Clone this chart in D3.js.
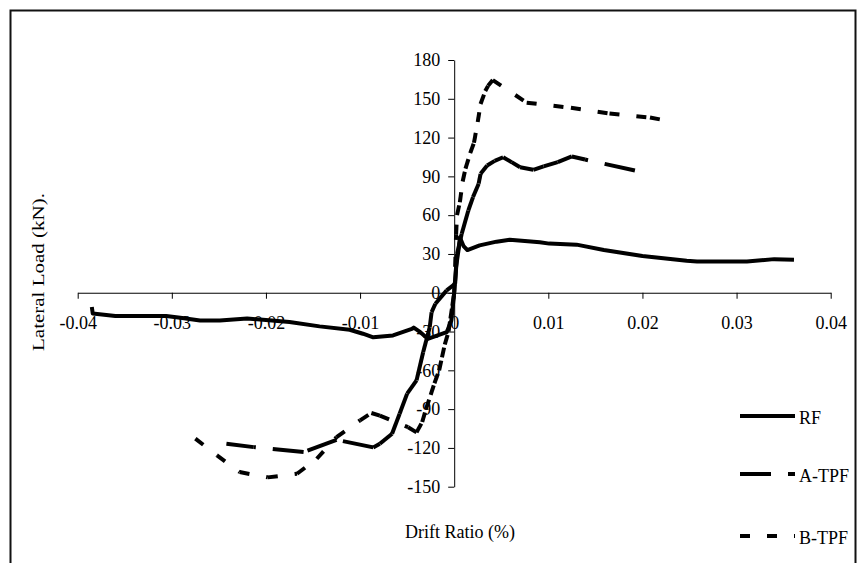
<!DOCTYPE html>
<html>
<head>
<meta charset="utf-8">
<script src="https://cdn.jsdelivr.net/npm/d3@7"></script>
<style>
  body { margin: 0; background: #fff; }
  svg { display: block; }
  text { font-family: "Times New Roman", "Liberation Serif", serif; }
</style>
</head>
<body>
<div id="chart"></div>
<script>

// Drift ratio / lateral load (kN) pairs, in drawing order
var rfDrift = [-0.0385, -0.0384, -0.036, -0.0306, -0.0291, -0.027, -0.0249, -0.022, -0.020, -0.0175,
               -0.0143, -0.0111, -0.0097, -0.0086, -0.0065, -0.0045, -0.0043, -0.0036, -0.0028, -0.0008,
               -0.0003, 0, 0.0002, 0.0005, 0.0006, 0.0010, 0.0014, 0.0027, 0.0045, 0.0059,
               0.0091, 0.0101, 0.013, 0.0159, 0.020, 0.0247, 0.0258, 0.0311, 0.034, 0.0361];
var rfLoad  = [-11, -16, -18, -18, -19.3, -21.4, -21.4, -20, -21, -22.7,
               -26, -28.6, -31.7, -34.5, -33, -28, -27, -30.5, -35.6, -30.5,
               -21.4, 0, 20, 35, 43, 36, 33, 36.6, 39.5, 41,
               39, 38, 37.2, 33, 28.4, 24.7, 24.2, 24.2, 26, 25.6];

// A-TPF is plotted from its positive end back to the negative end
var aDrift = [0.0192, 0.0139, 0.0125, 0.011, 0.0095, 0.0084, 0.0070, 0.0061, 0.0052, 0.0043,
              0.0035, 0.0028, 0.0026, 0.0020, 0.0015, 0.0008, 0.0003, 0.0001, -0.0008, -0.0020,
              -0.0024, -0.0026, -0.0033, -0.0040, -0.0050, -0.0058, -0.0066, -0.0079, -0.0086, -0.0125,
              -0.0160, -0.0213, -0.0242];
var aLoad  = [94.6, 103, 105.4, 101, 97.7, 95.1, 97, 101, 104.8, 102,
              98.4, 92, 84.3, 74, 63.6, 45.6, 30, 7, 1.8, -8.5,
              -15, -26.6, -46, -67.8, -78, -93.6, -109, -116.8, -119.6, -113.7,
              -123.2, -119.4, -116.8];

var bDrift = [-0.0275, -0.0252, -0.0228, -0.0198, -0.0167, -0.0146, -0.0125, -0.0100, -0.0088, -0.0079,
              -0.0049, -0.0040, -0.0034, -0.0030, -0.0025, -0.0021, -0.0016, -0.0013, -0.0010, -0.0006,
              -0.0004, -0.0002, 0, 0.0001, 0.0002, 0.0003, 0.0006, 0.0009, 0.0012, 0.0017,
              0.0021, 0.0025, 0.0028, 0.0033, 0.0036, 0.0041, 0.0077, 0.0124, 0.0165, 0.0208,
              0.0230];
var bLoad  = [-112.8, -125.8, -138.7, -142.8, -140, -128.4, -111.7, -98.7, -93, -95,
              -104, -108, -100, -90, -79, -70, -60, -50, -40, -30,
              -20, -10, 0, 20, 45, 60, 70, 86, 96, 108,
              116, 132, 146, 156, 160, 164.5, 147, 143, 138.6, 135.5,
              132.5];

var xTicks = [-0.04, -0.03, -0.02, -0.01, 0, 0.01, 0.02, 0.03, 0.04];
var yTicks = [-150, -120, -90, -60, -30, 0, 30, 60, 90, 120, 150, 180];

var width = 861, height = 563;

var svg = d3.select('#chart').append('svg')
    .attr('width', width)
    .attr('height', height);

// outer frame of the chart area
svg.append('rect')
    .attr('x', 10.5).attr('y', 10.5)
    .attr('width', 845).attr('height', 570)
    .attr('fill', 'none')
    .attr('stroke', '#111')
    .attr('stroke-width', 2);

var x = d3.scaleLinear().domain([-0.04, 0.04]).range([77.7, 830.7]);
var y = d3.scaleLinear().domain([-150, 180]).range([486.7, 60]);

var fmtX = function(d) { return d === 0 ? '0' : d3.format('.2f')(d).replace('−', '-'); };

var xAxis = svg.append('g')
    .attr('transform', 'translate(0,' + y(0) + ')')
    .call(d3.axisBottom(x).tickValues(xTicks).tickFormat(fmtX).tickSize(6).tickPadding(17).tickSizeOuter(0));

var yAxis = svg.append('g')
    .attr('transform', 'translate(' + x(0) + ',0)')
    .call(d3.axisLeft(y).tickValues(yTicks).tickFormat(function(d) { return String(d); }).tickSize(6).tickPadding(8).tickSizeOuter(0));

svg.selectAll('.tick text')
    .attr('font-family', '"Times New Roman", "Liberation Serif", serif')
    .attr('font-size', 18)
    .attr('fill', '#000');
svg.selectAll('.domain, .tick line').attr('stroke', '#000');

// axis titles
svg.append('text')
    .attr('transform', 'translate(44,272) rotate(-90)')
    .attr('text-anchor', 'middle')
    .attr('font-size', 17)
    .attr('textLength', 158)
    .attr('lengthAdjust', 'spacingAndGlyphs')
    .text('Lateral Load (kN).');

svg.append('text')
    .attr('x', 460).attr('y', 538)
    .attr('text-anchor', 'middle')
    .attr('font-size', 18)
    .text('Drift Ratio (%)');

function pts(dr, ld) {
  return dr.map(function(d, i) { return [d, ld[i]]; });
}

var plot = svg.append('g');

// RF solid
plot.append('path')
    .datum(pts(rfDrift, rfLoad))
    .attr('fill', 'none')
    .attr('stroke', '#000')
    .attr('stroke-width', 4)
    .attr('stroke-linejoin', 'round')
    .attr('d', d3.line().x(function(d) { return x(d[0]); }).y(function(d) { return y(d[1]); }));

// dashed series: the dash pattern restarts on every segment, as in the old spreadsheet output
function dashedSeries(data, dash) {
  plot.append('g').selectAll('line')
      .data(d3.pairs(data))
      .enter().append('line')
        .attr('x1', function(d) { return x(d[0][0]); })
        .attr('y1', function(d) { return y(d[0][1]); })
        .attr('x2', function(d) { return x(d[1][0]); })
        .attr('y2', function(d) { return y(d[1][1]); })
        .attr('stroke', '#000')
        .attr('stroke-width', 4)
        .attr('stroke-dasharray', dash);
}
dashedSeries(pts(aDrift, aLoad), '31,17');
dashedSeries(pts(bDrift, bLoad), '10,17');

// legend
var legend = [
  {name: 'RF', dash: null, y: 416},
  {name: 'A-TPF', dash: '31,17', y: 474},
  {name: 'B-TPF', dash: '10,17', y: 536}
];
var lg = svg.append('g');
lg.selectAll('line')
    .data(legend)
    .enter().append('line')
      .attr('x1', 740).attr('x2', 795)
      .attr('y1', function(d) { return d.y; })
      .attr('y2', function(d) { return d.y; })
      .attr('stroke', '#000')
      .attr('stroke-width', 4)
      .attr('stroke-dasharray', function(d) { return d.dash; });
lg.selectAll('text')
    .data(legend)
    .enter().append('text')
      .attr('x', 799)
      .attr('y', function(d) { return d.y + 8; })
      .attr('font-size', 18)
      .text(function(d) { return d.name; });

</script>
</body>
</html>
